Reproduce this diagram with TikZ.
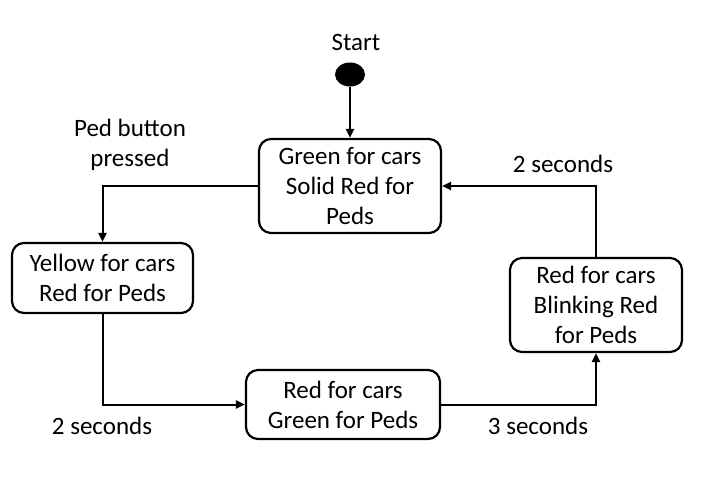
\documentclass[tikz,border=0pt]{standalone}
\usepackage{fontspec}
\setmainfont{Carlito}
\usetikzlibrary{shapes.geometric, arrows.meta}

\tikzset{
  state/.style={draw, rounded corners=6pt, line width=1.1pt, align=center, inner sep=0pt},
  arr/.style={-{Triangle[length=4.5pt, width=4pt]}, line width=1pt},
}

\begin{document}
\begin{tikzpicture}[x=0.5pt, y=-0.5pt, font=\fontsize{12.5}{15}\selectfont]
    \useasboundingbox (0,0) rectangle (707,479);

    \node[ellipse, fill, minimum width=15pt, minimum height=12pt, inner sep=0pt] (init) at (350, 74.5) {};
    \node (startlbl) at (356, 42) {Start};

    \node[state, minimum width=91pt, minimum height=47pt] (green) at (350, 186) {Green for cars\\Solid Red for\\Peds};
    \node[state, minimum width=90.5pt, minimum height=35pt] (yellow) at (102.5, 278) {Yellow for cars\\Red for Peds};
    \node[state, minimum width=97pt, minimum height=34.5pt] (walk) at (343, 404.5) {Red for cars\\Green for Peds};
    \node[state, minimum width=86pt, minimum height=47pt] (blink) at (596, 305) {Red for cars\\Blinking Red\\for Peds};

    \node[align=center] (pedlbl) at (130, 145) {Ped button\\pressed};
    \node (yellowlbl) at (102, 426) {2 seconds};
    \node (walklbl) at (538, 426) {3 seconds};
    \node (blinklbl) at (563, 164) {2 seconds};

    \draw[arr] (init.south) -- (init.south |- green.north);
    \draw[arr] (green.west) -| (yellow.north);
    \draw[arr] (yellow.south) |- (walk.west);
    \draw[arr] (walk.east) -| (blink.south);
    \draw[arr] (blink.north) |- (green.east);
\end{tikzpicture}
\end{document}
